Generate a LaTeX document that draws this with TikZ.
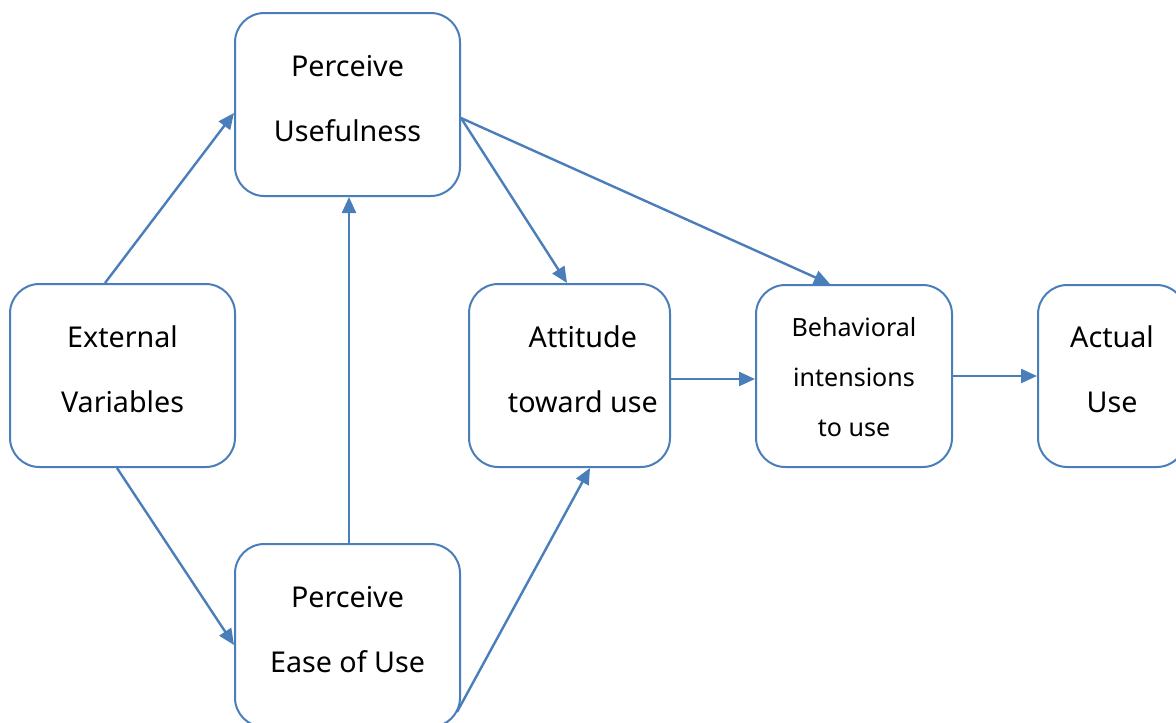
\documentclass[tikz,border=0pt]{standalone}
\usepackage{fontspec}
\setmainfont{Noto Sans}
\usetikzlibrary{arrows.meta,calc}
\definecolor{tamblue}{RGB}{74,126,187}
\newcommand{\tamlines}[2]{\raisebox{#1}[\height][\depth]{\begin{tabular}{@{}c@{}}#2\end{tabular}}}
\tikzset{
  tambox/.style={draw=tamblue, line width=1.5pt, rounded corners=22pt, fill=white,
    inner sep=0pt, font=\fontsize{21.5}{48.75}\selectfont},
  smallbox/.style={tambox, font=\fontsize{18.8}{37.5}\selectfont},
  tamarrow/.style={draw=tamblue, line width=1.8pt, -{Triangle[length=12pt,width=10.5pt]}},
}
\begin{document}
\begin{tikzpicture}[x=0.75pt,y=-0.75pt]
\useasboundingbox (0,0) rectangle (1176,722);
\clip (0,0) rectangle (1176,722);
\fill[white] (0,0) rectangle (1176,722);
\node[tambox, minimum width=168.75pt, minimum height=137.25pt] (pu) at (347.5,104.5) {\tamlines{6.75pt}{Perceive\\Usefulness}};
\node[tambox, minimum width=168.75pt, minimum height=137.25pt] (ev) at (122.5,375.5) {\tamlines{6.75pt}{External\\Variables}};
\node[tambox, minimum width=168.75pt, minimum height=137.25pt] (peou) at (347.5,635.5) {\tamlines{6.75pt}{Perceive\\Ease of Use}};
\node[tambox, minimum width=150.75pt, minimum height=137.25pt] (att) at (569.5,375.5) {\tamlines{6.75pt}{\hspace*{20pt}Attitude\\\hspace*{20pt}toward use}};
\node[smallbox, minimum width=147pt, minimum height=136.5pt] (bi) at (854,376) {\tamlines{0pt}{Behavioral\\intensions\\to use}};
\node[tambox, minimum width=111pt, minimum height=136.5pt] (au) at (1112,376) {\tamlines{6.75pt}{Actual\\Use}};

\draw[tamarrow] ($(ev.north)+(-17.5,0)$) -- ($(pu.west)+(0,8.5)$);
\draw[tamarrow] ($(ev.south)+(-5.5,0)$) -- ($(peou.west)+(0,9.5)$);
\draw[tamarrow] ($(peou.north)+(1.5,0)$) -- ($(pu.south)+(1.5,0)$);
\draw[tamarrow] ($(pu.east)+(0,13.5)$) -- ($(att.north)+(-2.5,0)$);
\draw[tamarrow] ($(pu.east)+(0,13.5)$) -- ($(bi.north)+(-24,0)$);
\draw[tamarrow] ($(peou.east)+(-4,76.5)$) -- ($(att.south)+(20.5,0)$);
\draw[tamarrow] ($(att.east)+(0,3.5)$) -- ($(bi.west)+(0,3)$);
\draw[tamarrow] (bi.east) -- (au.west);
\end{tikzpicture}
\end{document}
